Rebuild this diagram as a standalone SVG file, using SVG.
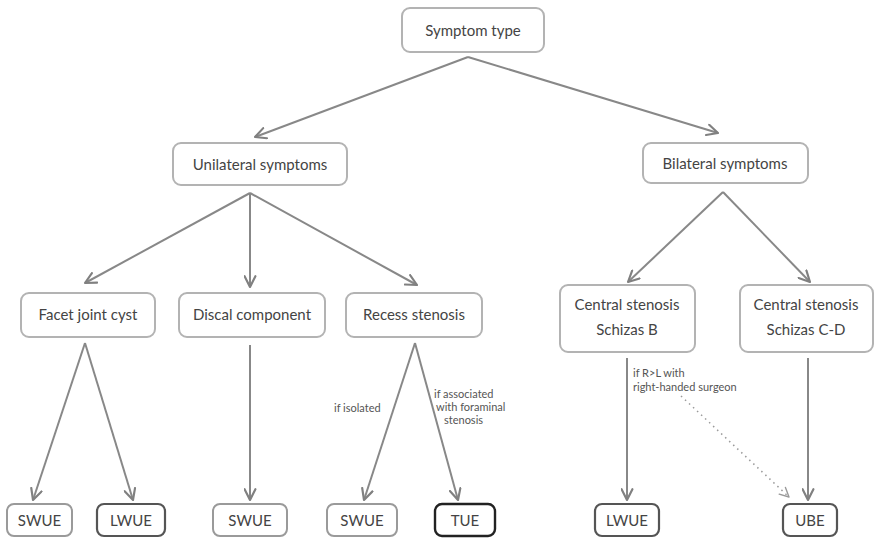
<svg xmlns="http://www.w3.org/2000/svg" width="877" height="539" viewBox="0 0 877 539">
<defs>
<marker id="ah" viewBox="0 0 12 12" refX="11" refY="6" markerWidth="13" markerHeight="13" markerUnits="userSpaceOnUse" orient="auto">
<path d="M1,1 L11,6 L1,11" fill="none" stroke="#808080" stroke-width="2" stroke-linecap="round" stroke-linejoin="round"/>
</marker>
<marker id="ahd" viewBox="0 0 12 12" refX="11" refY="6" markerWidth="11" markerHeight="11" markerUnits="userSpaceOnUse" orient="auto">
<path d="M1,1 L11,6 L1,11" fill="none" stroke="#999" stroke-width="1.5" stroke-linecap="round" stroke-linejoin="round"/>
</marker>
</defs>
<style>
.box{fill:#fff;stroke:#b3b3b3;stroke-width:2}
.lt{fill:#fff;stroke:#9a9a9a;stroke-width:2}
.dk{fill:#fff;stroke:#555;stroke-width:2.2}
.bk{fill:#fff;stroke:#222;stroke-width:2.4}
.t{font-family:Lato,"Noto Sans",sans-serif;font-size:15px;fill:#444;text-anchor:middle}
.b{font-family:Lato,"Noto Sans",sans-serif;font-size:15px;fill:#444;text-anchor:middle}
.s{font-family:Lato,"Noto Sans",sans-serif;font-size:11px;fill:#555}
.c{fill:none;stroke:#888;stroke-width:2;marker-end:url(#ah)}
.d{fill:none;stroke:#999;stroke-width:1.5;stroke-dasharray:1.5 4;marker-end:url(#ahd)}
</style>
<rect width="877" height="539" fill="#fff"/>
<g id="connectors">
<path class="c" d="M468,57 L255,137"/>
<path class="c" d="M468,57 L718,133"/>
<path class="c" d="M250,193 L85,283"/>
<path class="c" d="M250,193 L250,287"/>
<path class="c" d="M250,193 L417,285"/>
<path class="c" d="M723,192 L628,282"/>
<path class="c" d="M723,192 L810,282"/>
<path class="c" d="M85,343 L33,500"/>
<path class="c" d="M85,343 L133,500"/>
<path class="c" d="M250,345 L250,500"/>
<path class="c" d="M415,343 L364,500"/>
<path class="c" d="M415,343 L458,500"/>
<path class="c" d="M627,358 L627,500"/>
<path class="c" d="M808,358 L808,500"/>
<path class="d" d="M681,396 L789,497"/>
<text class="s" x="334" y="412">if isolated</text>
<text class="s" x="434" y="398">if associated</text>
<text class="s" x="436" y="411">with foraminal</text>
<text class="s" x="444" y="424">stenosis</text>
<text class="s" x="633" y="377">if R&gt;L with</text>
<text class="s" x="633" y="391">right-handed surgeon</text>
</g>
<g id="symptom-type"><rect class="box" x="402" y="8" width="142" height="44" rx="8"/><text class="t" x="473" y="36">Symptom type</text></g>
<g id="unilateral"><rect class="box" x="173" y="143" width="174" height="42" rx="8"/><text class="t" x="260" y="170">Unilateral symptoms</text></g>
<g id="bilateral"><rect class="box" x="643" y="143" width="165" height="40" rx="8"/><text class="t" x="725" y="169">Bilateral symptoms</text></g>
<g id="facet"><rect class="box" x="21" y="293" width="134" height="44" rx="8"/><text class="t" x="88" y="320">Facet joint cyst</text></g>
<g id="discal"><rect class="box" x="179" y="293" width="146" height="44" rx="8"/><text class="t" x="252" y="320">Discal component</text></g>
<g id="recess"><rect class="box" x="346" y="293" width="136" height="44" rx="8"/><text class="t" x="414" y="320">Recess stenosis</text></g>
<g id="central-b"><rect class="box" x="560" y="285" width="135" height="67" rx="8"/><text class="t" x="627" y="310">Central stenosis</text><text class="t" x="627" y="335">Schizas B</text></g>
<g id="central-cd"><rect class="box" x="740" y="285" width="133" height="67" rx="8"/><text class="t" x="806" y="310">Central stenosis</text><text class="t" x="806" y="335">Schizas C-D</text></g>
<g id="swue1"><rect class="lt" x="7" y="504" width="65" height="32" rx="7"/><text class="b" x="39.5" y="526">SWUE</text></g>
<g id="lwue1"><rect class="dk" x="97" y="504" width="68" height="32" rx="7"/><text class="b" x="131" y="526">LWUE</text></g>
<g id="swue2"><rect class="lt" x="213" y="504" width="74" height="32" rx="7"/><text class="b" x="250" y="526">SWUE</text></g>
<g id="swue3"><rect class="lt" x="327" y="504" width="70" height="32" rx="7"/><text class="b" x="362" y="526">SWUE</text></g>
<g id="tue"><rect class="bk" x="435" y="504" width="60" height="32" rx="7"/><text class="b" x="465" y="526">TUE</text></g>
<g id="lwue2"><rect class="dk" x="595" y="504" width="64" height="32" rx="7"/><text class="b" x="627" y="526">LWUE</text></g>
<g id="ube"><rect class="dk" x="783" y="504" width="54" height="32" rx="7"/><text class="b" x="810" y="526">UBE</text></g>
</svg>
